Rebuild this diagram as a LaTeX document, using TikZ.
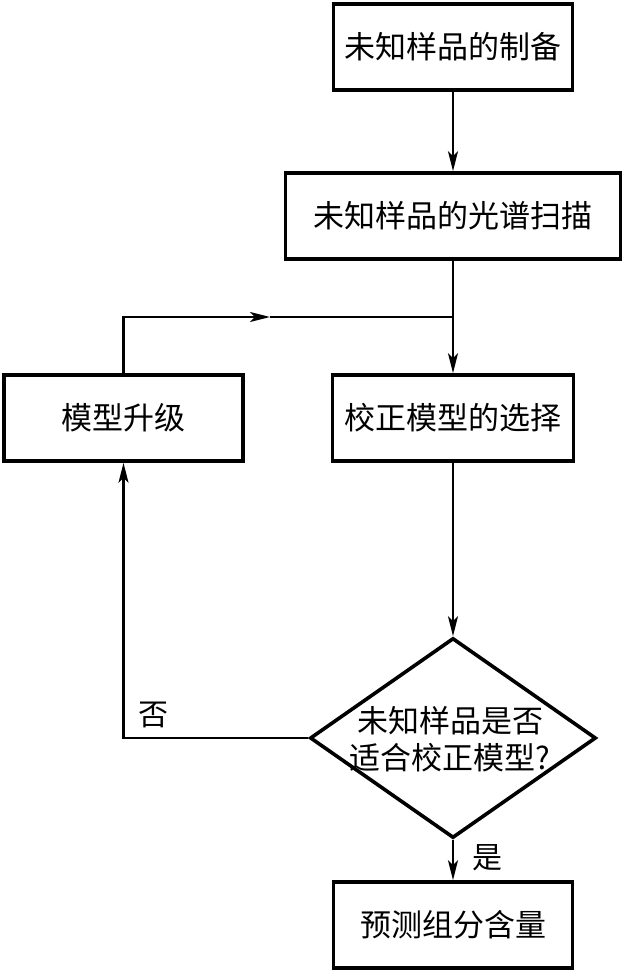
\documentclass[tikz,border=0pt]{standalone}
\usepackage{fontspec}
\setmainfont{Noto Sans CJK SC}
\usetikzlibrary{arrows.meta,shapes.geometric}
\begin{document}
\begin{tikzpicture}[x=1pt,y=-1pt,
  box/.style={draw,line width=3.6pt,minimum height=86pt,inner sep=0pt,font=\fontsize{31}{38}\selectfont},
  conn/.style={line width=2.2pt},
  tip/.style={-{Stealth[length=20pt,width=10pt,inset=5pt]}},
  lbl/.style={font=\fontsize{30}{36}\selectfont,inner sep=0pt}]
\useasboundingbox (0,0) rectangle (623,973);
\node[box,minimum width=239pt] (b1) at (453,47) {未知样品的制备};
\node[box,minimum width=335pt] (b2) at (453,216) {未知样品的光谱扫描};
\node[box,minimum width=239pt] (b3) at (123.5,418) {模型升级};
\node[box,minimum width=241pt] (b4) at (453,418) {校正模型的选择};
\node[draw,diamond,line width=3.6pt,minimum width=286pt,minimum height=200pt,inner sep=0pt] (d) at (453,738) {};
\node[align=center,font=\fontsize{31}{37}\selectfont,inner sep=0pt] (dq) at (450,739) {未知样品是否\\适合校正模型?};
\node[box,minimum width=239pt] (b5) at (453,925) {预测组分含量};
\coordinate (j) at (453,317);
\coordinate (m) at (270,317);
\draw[conn,tip] (b1.south) -- (b2.north);
\draw[conn,tip] (b2.south) -- (b4.north);
\draw[conn,tip] (b4.south) -- (d.north);
\draw[conn,tip] (d.south) -- (b5.north);
\draw[conn,tip] (d.west) -| (b3.south);
\draw[conn,tip] (b3.north) |- (m);
\draw[conn] (m) -- (j);
\node[lbl] (no) at (153,715) {否};
\node[lbl] (yes) at (487,858) {是};
\end{tikzpicture}
\end{document}
